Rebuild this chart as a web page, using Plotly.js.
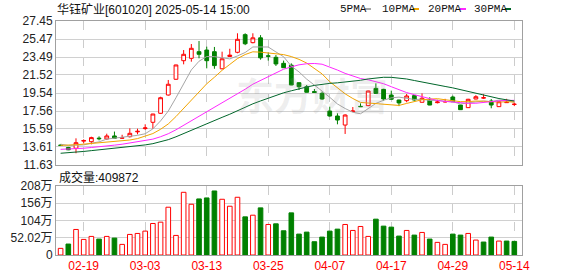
<!DOCTYPE html>
<html>
<head>
<meta charset="utf-8">
<script src="https://cdn.plot.ly/plotly-3.0.1.min.js"></script>
<style>html,body{margin:0;padding:0;background:#fff;}#chart{width:578px;height:276px;}</style>
</head>
<body>
<div id="chart"></div>
<script>
// ---- data ----
const dates = ["02-14","02-17","02-18","02-19","02-20","02-21","02-24","02-25","02-26","02-27",
  "02-28","03-03","03-04","03-05","03-06","03-07","03-10","03-11","03-12","03-13",
  "03-14","03-17","03-18","03-19","03-20","03-21","03-24","03-25","03-26","03-27",
  "03-28","03-31","04-01","04-02","04-03","04-07","04-08","04-09","04-10","04-11",
  "04-14","04-15","04-16","04-17","04-18","04-21","04-22","04-23","04-24","04-25",
  "04-28","04-29","04-30","05-06","05-07","05-08","05-09","05-12","05-13","05-14"];
const opens = [13.82,13.55,13.47,14.25,14.19,14.58,14.49,14.82,14.57,14.74,
  15.27,15.63,16.32,17.31,19.32,21.05,23.09,23.35,24.08,24.26,
  24.08,22.20,23.55,24.01,25.95,25.07,25.60,23.62,23.46,22.80,
  22.60,20.67,20.23,19.70,19.50,17.56,17.01,16.02,17.50,18.07,
  18.15,20.05,19.94,19.32,18.77,18.70,19.25,18.52,18.77,18.48,
  18.55,19.10,18.22,17.93,18.88,18.98,18.66,18.04,18.48,18.28];
const highs = [13.88,13.62,14.56,14.45,14.74,14.78,15.07,15.30,14.95,15.66,
  15.62,16.10,17.25,19.13,20.97,22.65,24.26,24.92,25.25,24.63,
  24.60,24.08,24.40,26.10,26.10,26.10,25.90,24.00,23.71,23.10,
  22.80,20.70,20.42,19.98,19.69,18.04,17.31,17.20,18.00,18.40,
  19.80,20.60,20.00,19.80,18.80,19.43,19.30,19.50,19.07,18.80,
  18.90,19.25,18.25,18.90,19.30,19.40,18.88,18.60,18.90,18.50];
const lows = [13.72,13.26,12.92,14.00,13.90,14.34,14.41,14.56,14.50,14.65,
  15.00,15.50,15.60,17.25,19.25,21.00,22.69,22.98,23.35,22.25,
  22.20,22.15,23.50,23.90,24.80,25.00,23.20,23.10,22.51,22.30,
  20.40,19.87,19.60,19.55,18.80,16.95,16.10,15.04,17.50,18.00,
  18.10,19.45,18.70,18.80,18.10,18.52,18.70,18.50,18.20,18.40,
  18.50,18.55,17.70,17.90,18.85,18.90,17.86,18.00,18.45,18.10];
const closes = [13.78,13.30,14.08,14.32,14.64,14.52,14.82,14.56,14.62,15.11,
  15.33,15.70,17.23,19.02,20.50,22.62,23.79,24.45,23.79,23.09,
  22.55,23.30,23.70,25.44,24.95,25.60,23.40,23.58,22.73,22.32,
  20.42,20.23,19.62,19.60,18.88,17.01,16.57,17.12,17.56,18.04,
  19.76,19.50,18.88,18.85,18.45,19.21,18.77,18.96,18.22,18.55,
  18.60,18.58,17.71,18.85,19.13,19.02,18.22,18.58,18.52,18.31];
// closes of the 29 sessions before the window (not drawn; estimated so the MA lines start where the reference shows them)
const priorCloses = [11.80,11.90,12.00,11.95,12.10,12.05,12.20,12.10,12.25,12.25,
  12.90,13.10,13.20,13.10,13.20,12.90,12.60,12.60,12.70,12.80,
  13.20,13.50,13.70,13.90,14.00,14.00,13.90,14.20,13.70];
// volume in 万 (10k shares)
const volumes = [20,33,77,47,56,48,56,51,32,62,
  65,72,95,99,144,59,189,153,169,172,
  193,168,147,174,115,120,142,92,94,73,
  127,63,69,40,54,72,78,92,74,86,
  56,108,87,84,57,74,60,68,48,38,
  32,63,60,65,45,39,54,42,42,40.9872];
const priceTicks = ["11.63","13.61","15.59","17.56","19.54","21.52","23.49","25.47","27.45"];
const volTicks = ["0","52.02","104","156","208"];
const dateTicks = ["02-19","03-03","03-13","03-25","04-07","04-17","04-29","05-14"];
const maPeriods = [5,10,20,30];
const maNames = ["5PMA","10PMA","20PMA","30PMA"];
const maColors = ["#a6a6a6","#f2a400","#ff28ff","#00662a"];
const stockTitle = "华钰矿业[601020] 2025-05-14 15:00";

// ---- derived ----
const allCloses = priorCloses.concat(closes);
const off = priorCloses.length;
function movingAverage(n){
  return closes.map((c,i)=>{
    let s=0; for(let k=0;k<n;k++) s+=allCloses[off+i-k];
    return s/n;
  });
}
const RED="#ff0000", GREEN="#008000";
const prevClose = (i)=> allCloses[off+i-1];
const volUp = closes.map((c,i)=> c >= prevClose(i));

// pixel -> paper helpers (plot area x:56..522, y:21..255)
const L=56, R=522, T=21, B=255;
const px = x => (x-L)/(R-L);
const py = y => (B-y)/(B-T);

const traces = [];
traces.push({
  type:"candlestick", x:dates, open:opens, high:highs, low:lows, close:closes,
  xaxis:"x", yaxis:"y",
  increasing:{line:{color:RED,width:1},fillcolor:"#ffffff"},
  decreasing:{line:{color:GREEN,width:1},fillcolor:GREEN},
  whiskerwidth:0, hoverinfo:"skip", showlegend:false
});
maPeriods.forEach((n,j)=>{
  traces.push({type:"scatter",mode:"lines",x:dates,y:movingAverage(n),xaxis:"x",yaxis:"y",
    line:{color:maColors[j],width:1},hoverinfo:"skip",showlegend:false});
});
traces.push({
  type:"bar", x:dates, y:volumes, xaxis:"x2", yaxis:"y2", width:0.6,
  marker:{color:volUp.map(u=>u?"#ffffff":GREEN), line:{color:volUp.map(u=>u?RED:GREEN),width:1}},
  hoverinfo:"skip", showlegend:false
});

const font = "Liberation Sans, Arial, Noto Sans CJK SC, sans-serif";
const axCommon = {showline:true, mirror:true, linecolor:"#a0a0a0", linewidth:1, zeroline:false, ticks:""};
const xCommon = Object.assign({}, axCommon, {
  type:"category", range:[-0.6, dates.length], tickvals:dateTicks, ticktext:dateTicks,
  showgrid:true, gridcolor:"#cccccc", griddash:"dash", gridwidth:1,
  rangeslider:{visible:false}, fixedrange:true
});

const annotations = [
  {text:stockTitle, xref:"paper", yref:"paper", x:px(55), y:py(10), xanchor:"left", yanchor:"middle",
   showarrow:false, font:{family:font, size:12, color:"#111"}},
  {text:"成交量:" + Math.round(volumes[volumes.length-1]*10000), xref:"paper", yref:"paper", x:px(57), y:py(177),
   xanchor:"left", yanchor:"middle", showarrow:false, font:{family:font, size:12, color:"#111"}},
  {text:"东方财富", xref:"paper", yref:"paper", x:px(312), y:py(93), xanchor:"center", yanchor:"middle",
   showarrow:false, font:{family:"Noto Sans CJK SC, sans-serif", size:38, color:"rgba(150,150,150,0.16)", weight:700}}
];
const legendX = [338,380,426,472];
const dashX = [365,413,460,505];
const shapes = [];
maNames.forEach((nm,j)=>{
  annotations.push({text:nm, xref:"paper", yref:"paper", x:px(legendX[j]), y:py(9), xanchor:"left", yanchor:"middle",
    showarrow:false, font:{family:"Liberation Mono, Courier New, monospace", size:11, color:"#111"}});
  shapes.push({type:"line", xref:"paper", yref:"paper", x0:px(dashX[j]), x1:px(dashX[j]+6), y0:py(9), y1:py(9),
    line:{color:maColors[j], width:2}});
});

const layout = {
  width:578, height:276, margin:{l:L, r:578-R, t:T, b:276-B, pad:0},
  paper_bgcolor:"#ffffff", plot_bgcolor:"#ffffff", showlegend:false,
  xaxis:Object.assign({}, xCommon, {anchor:"y", showticklabels:false}),
  xaxis2:Object.assign({}, xCommon, {anchor:"y2", matches:"x", showticklabels:true,
    tickfont:{family:font, size:12, color:RED}}),
  yaxis:Object.assign({}, axCommon, {domain:[py(165),1], range:[11.63,27.45],
    tickvals:priceTicks.map(Number), ticktext:priceTicks, showgrid:true, gridcolor:"#d0d0d0",
    tickfont:{family:font, size:12, color:"#222"}, fixedrange:true}),
  yaxis2:Object.assign({}, axCommon, {domain:[0,py(186)], range:[0,208],
    tickvals:volTicks.map(Number), ticktext:volTicks.map(t=>t==="0"?"0":t+"万"), showgrid:true, gridcolor:"#d0d0d0",
    tickfont:{family:font, size:12, color:"#222"}, fixedrange:true}),
  annotations:annotations, shapes:shapes, bargap:0.4
};
Plotly.newPlot("chart", traces, layout, {staticPlot:true, displayModeBar:false});
</script>
</body>
</html>
